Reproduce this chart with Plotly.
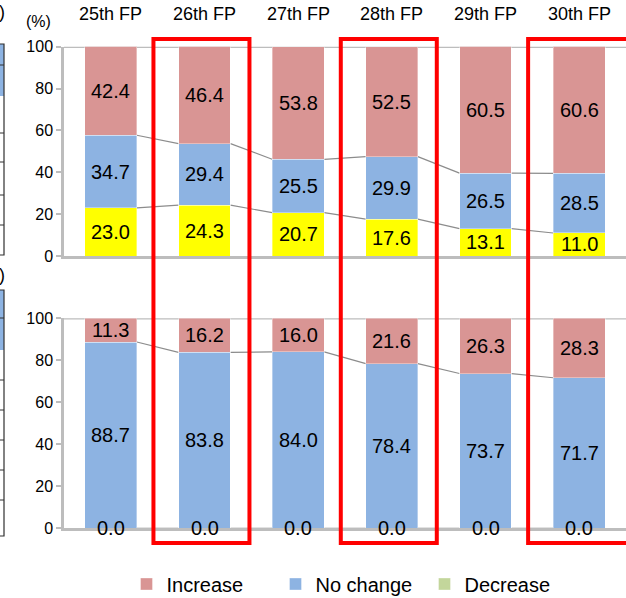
import plotly.graph_objects as go

# ---- data -------------------------------------------------------------
categories = ["25th FP", "26th FP", "27th FP", "28th FP", "29th FP", "30th FP"]

top_increase = [42.4, 46.4, 53.8, 52.5, 60.5, 60.6]
top_nochange = [34.7, 29.4, 25.5, 29.9, 26.5, 28.5]
top_decrease = [23.0, 24.3, 20.7, 17.6, 13.1, 11.0]

bot_increase = [11.3, 16.2, 16.0, 21.6, 26.3, 28.3]
bot_nochange = [88.7, 83.8, 84.0, 78.4, 73.7, 71.7]
bot_decrease = [0.0, 0.0, 0.0, 0.0, 0.0, 0.0]

y_ticks = [0, 20, 40, 60, 80, 100]
highlighted = ["26th FP", "28th FP", "30th FP"]

# ---- styling ------------------------------------------------------------
W, H = 626, 598
C_INC = "#d99594"
C_NOC = "#8db3e2"
C_DEC_TOP = "#ffff00"
C_DEC = "#c3d69b"
AXIS_GRAY = "#bdbdbd"
SERIES_GRAY = "#8c8c8c"
FONT = "Liberation Sans, Arial, sans-serif"
BAR_W = 0.555


def px(x):
    return x / W


def py(y):
    return 1 - y / H


fig = go.Figure()

panels = [
    ("x", "y", [top_decrease, top_nochange, top_increase], [C_DEC_TOP, C_NOC, C_INC], False),
    ("x2", "y2", [bot_decrease, bot_nochange, bot_increase], [C_DEC, C_NOC, C_INC], True),
]
names = ["Decrease", "No change", "Increase"]
ranks = [3, 2, 1]

annotations = []
shapes = []

for xref, yref, series, colors, legend in panels:
    for vals, col, name, rank in zip(series, colors, names, ranks):
        fig.add_trace(go.Bar(
            x=categories, y=vals, name=name, width=BAR_W,
            marker=dict(color=col, line=dict(color="rgba(255,255,255,0.6)", width=0.6)),
            xaxis=xref, yaxis=yref, showlegend=legend, legendrank=rank,
            hoverinfo="skip",
        ))

    # value labels centred on each segment
    base = [0.0] * len(categories)
    boundaries = []
    for vals in series:
        for i, v in enumerate(vals):
            annotations.append(dict(
                x=i, y=base[i] + v / 2, xref=xref, yref=yref,
                text=f"{v:.1f}", showarrow=False,
                font=dict(family=FONT, size=20, color="#000000"),
                xanchor="center", yanchor="middle",
            ))
        base = [b + v for b, v in zip(base, vals)]
        boundaries.append(list(base))

    # series lines joining the segment boundaries of neighbouring bars
    for b in boundaries[:-1]:
        for i in range(len(categories) - 1):
            shapes.append(dict(
                type="line", xref=xref, yref=yref,
                x0=i + BAR_W / 2, y0=b[i], x1=i + 1 - BAR_W / 2, y1=b[i + 1],
                line=dict(color=SERIES_GRAY, width=1.2), layer="below",
            ))
    # top frame line at 100
    shapes.append(dict(
        type="line", xref=f"{xref} domain", yref=yref,
        x0=0, x1=1, y0=100, y1=100,
        line=dict(color=AXIS_GRAY, width=2.5), layer="below",
    ))

# category headings above the top panel
for i, c in enumerate(categories):
    annotations.append(dict(
        x=i, xref="x", y=py(14), yref="paper", text=c, showarrow=False,
        font=dict(family=FONT, size=18, color="#000000"),
        xanchor="center", yanchor="middle",
    ))

annotations.append(dict(
    x=px(38), y=py(22), xref="paper", yref="paper", text="(%)",
    showarrow=False, font=dict(family=FONT, size=16, color="#000000"),
    xanchor="center", yanchor="middle",
))

# red frames around highlighted periods
for c in highlighted:
    i = categories.index(c)
    shapes.append(dict(
        type="rect", xref="x", yref="paper",
        x0=i - 0.545, x1=(i + 0.48) if i < len(categories) - 1 else i + 0.62,
        y0=py(543), y1=py(39),
        line=dict(color="#ff0000", width=4), fillcolor="rgba(0,0,0,0)",
        layer="above",
    ))

# edge of the neighbouring table on the left
for top, blue_end, rows in [(44, 96, [65, 133, 162, 195, 225]),
                            (290, 350, [318, 380, 410, 440, 470, 500])]:
    bottom = 255 if top == 44 else 536
    shapes.append(dict(type="rect", xref="paper", yref="paper",
                       x0=px(-2), x1=px(4), y0=py(blue_end), y1=py(top),
                       fillcolor="#8db3e2", line=dict(width=0)))
    shapes.append(dict(type="rect", xref="paper", yref="paper",
                       x0=px(-2), x1=px(4), y0=py(bottom), y1=py(top),
                       fillcolor="rgba(0,0,0,0)", line=dict(color="#303030", width=1.2)))
    for r in rows:
        shapes.append(dict(type="line", xref="paper", yref="paper",
                           x0=px(-2), x1=px(4), y0=py(r), y1=py(r),
                           line=dict(color="#303030", width=1)))
for yy in (12, 275):
    annotations.append(dict(
        x=px(-3), y=py(yy), xref="paper", yref="paper", text=")",
        showarrow=False, font=dict(family=FONT, size=18, color="#000000"),
        xanchor="left", yanchor="middle",
    ))

x_dom = [px(64), 1.0]
axis_common = dict(
    type="category", categoryorder="array", categoryarray=categories,
    range=[-0.5, len(categories) - 0.5], showticklabels=False,
    showgrid=False, zeroline=False, ticks="",
    showline=True, linecolor=AXIS_GRAY, linewidth=2.5, domain=x_dom,
)
y_common = dict(
    range=[0, 100], tickvals=y_ticks, ticktext=[str(v) for v in y_ticks],
    showgrid=False, zeroline=False, showline=True, linecolor=AXIS_GRAY,
    linewidth=2.5, ticks="outside", ticklen=5, tickcolor=AXIS_GRAY, tickwidth=1.5,
    tickfont=dict(family=FONT, size=16, color="#000000"),
)

fig.update_layout(
    width=W, height=H,
    margin=dict(l=0, r=0, t=0, b=0, autoexpand=False),
    paper_bgcolor="white", plot_bgcolor="white",
    barmode="stack",
    xaxis=dict(anchor="y", **axis_common),
    xaxis2=dict(anchor="y2", **axis_common),
    yaxis=dict(anchor="x", domain=[py(256), py(46.7)], **y_common),
    yaxis2=dict(anchor="x2", domain=[py(528.3), py(318.3)], **y_common),
    legend=dict(
        orientation="h", x=px(350), y=py(584), xanchor="center", yanchor="middle",
        font=dict(family=FONT, size=20, color="#000000"),
        bgcolor="rgba(0,0,0,0)", itemclick=False, traceorder="normal",
        entrywidth=104, entrywidthmode="pixels",
    ),
    annotations=annotations,
    shapes=shapes,
    showlegend=True,
)

fig.write_html("out.html")
